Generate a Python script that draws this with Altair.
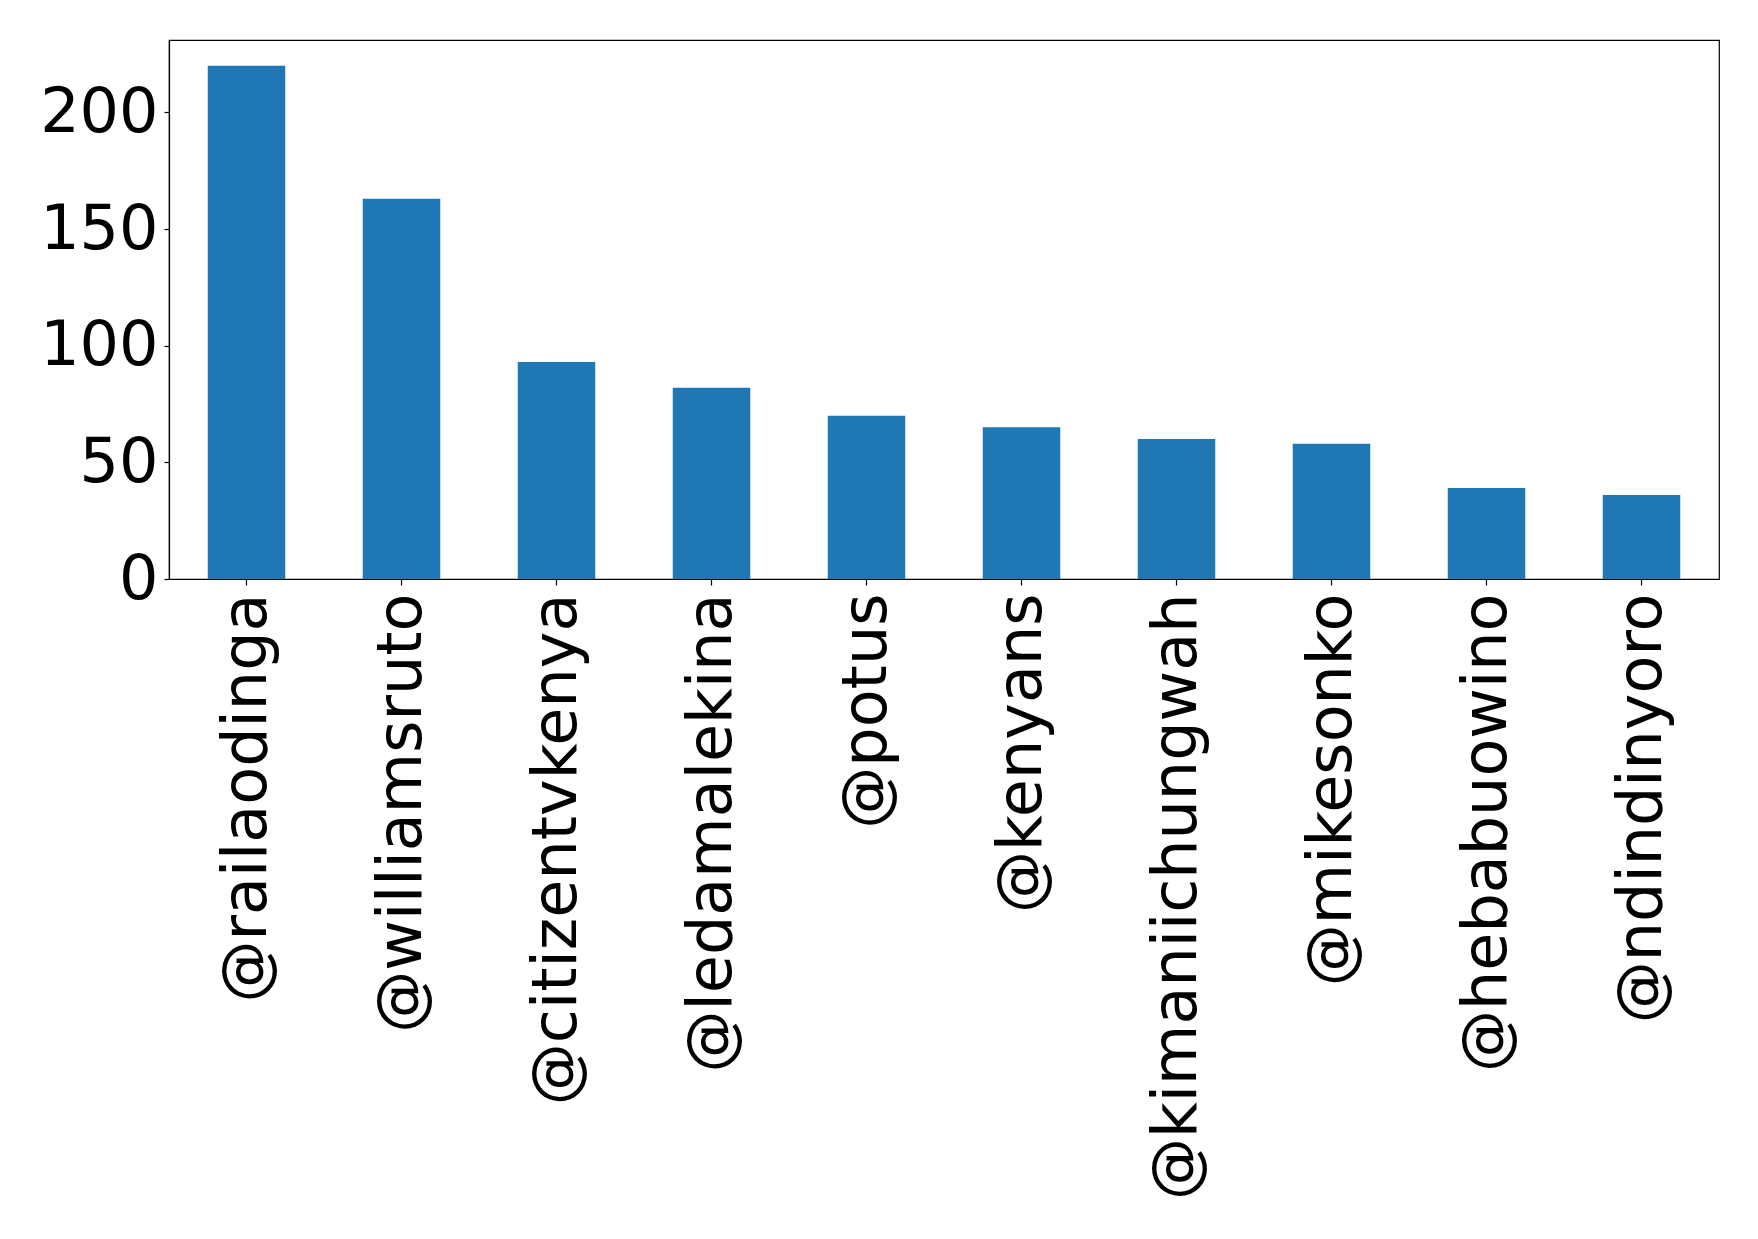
import altair as alt
import pandas as pd

# Top mentioned accounts and their mention counts
accounts = [
    "@railaodinga", "@williamsruto", "@citizentvkenya", "@ledamalekina",
    "@potus", "@kenyans", "@kimaniichungwah", "@mikesonko",
    "@hebabuowino", "@ndindinyoro",
]
counts = [220, 163, 93, 82, 70, 65, 60, 58, 39, 36]

df = pd.DataFrame({"account": accounts, "count": counts})

FONT = "DejaVu Sans"
SIZE = 62

chart = (
    alt.Chart(df)
    .mark_bar(color="#1f77b4")
    .encode(
        x=alt.X(
            "account:N",
            sort=accounts,
            title=None,
            scale=alt.Scale(paddingInner=0.5, paddingOuter=0.25),
            axis=alt.Axis(
                labelAngle=270,
                labelAlign="right",
                labelBaseline="middle",
                labelFont=FONT,
                labelFontSize=SIZE,
                labelColor="black",
                labelPadding=8,
                tickSize=6,
                labelLimit=0,
            ),
        ),
        y=alt.Y(
            "count:Q",
            title=None,
            scale=alt.Scale(domain=[0, 231], nice=False),
            axis=alt.Axis(
                values=[0, 50, 100, 150, 200],
                labelFont=FONT,
                labelFontSize=SIZE,
                labelColor="black",
                labelPadding=6,
                tickSize=5,
                grid=False,
            ),
        ),
    )
    .properties(
        width=1550,
        height=539,
        background="white",
        autosize=alt.AutoSizeParams(type="none"),
        padding={"left": 169, "top": 40, "right": 39, "bottom": 660},
    )
    .configure_view(stroke="black", strokeWidth=1.2)
    .configure_axis(
        domainColor="black",
        tickColor="black",
        domainWidth=1.2,
        tickWidth=1.2,
    )
)

chart.save("out.html", embed_options={"renderer": "svg", "actions": False})
